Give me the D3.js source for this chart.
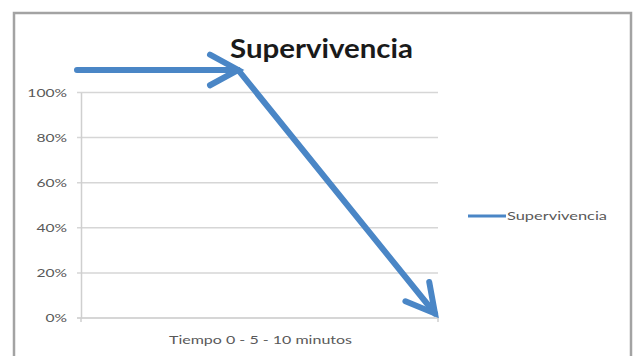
<!DOCTYPE html>
<html>
<head>
<meta charset="utf-8">
<script src="https://cdn.jsdelivr.net/npm/d3@7"></script>
<style>
  html, body { margin: 0; padding: 0; background: #fff; }
  svg { display: block; }
</style>
</head>
<body>
<svg id="chart" width="634" height="356"></svg>
<script>
// Survival series: minutes elapsed and survival percentage
const seriesName = "Supervivencia";
const minutes = [0, 4.5, 10];
const survival = [110, 110, 2];
const yTicks = [0, 20, 40, 60, 80, 100];
const xAxisLabel = "Tiempo 0 - 5 - 10 minutos";
const chartTitle = "Supervivencia";

const svg = d3.select("#chart");
const W = 634, H = 356;
const plot = { left: 81, right: 438, top: 92.5, bottom: 318 };
const lineColor = "#4a86c6";
const font = "Lato, 'Open Sans', sans-serif";

// stretch a text element horizontally to a given width
function fitWidth(sel, width) {
  sel.attr("textLength", width).attr("lengthAdjust", "spacingAndGlyphs");
}

svg.append("rect").attr("width", W).attr("height", H).attr("fill", "#fff");

// chart frame
svg.append("rect")
  .attr("x", 14).attr("y", 13)
  .attr("width", 617).attr("height", 360)
  .attr("fill", "#fff")
  .attr("stroke", "#a3a3a3").attr("stroke-width", 2.5);

const y = d3.scaleLinear().domain([0, 100]).range([plot.bottom, plot.top]);
const x = d3.scaleLinear().domain([0, 10]).range([plot.left - 4, plot.right - 3]);

// horizontal gridlines
svg.append("g").selectAll("line").data(yTicks).join("line")
  .attr("x1", plot.left - 4).attr("x2", plot.right)
  .attr("y1", d => y(d)).attr("y2", d => y(d))
  .attr("stroke", d => d === 0 ? "#c8c8c8" : "#d6d6d6")
  .attr("stroke-width", 1.5);

// value axis
const yAxis = d3.axisLeft(y).tickValues(yTicks).tickFormat(d => d + "%").tickSize(0).tickPadding(14);
const gy = svg.append("g").attr("transform", `translate(${plot.left},0)`).call(yAxis);
gy.select(".domain").attr("stroke", "#cfcfcf").attr("stroke-width", 1.5);
gy.selectAll("text")
  .attr("font-family", font).attr("font-size", 12)
  .attr("fill", "#595959")
  .each(function (d) {
    const w = this.getComputedTextLength();
    d3.select(this).call(fitWidth, w * 1.3);
  });

// category axis ticks at both ends
svg.append("g").selectAll("line").data([plot.left, plot.right]).join("line")
  .attr("x1", d => d).attr("x2", d => d)
  .attr("y1", plot.bottom).attr("y2", plot.bottom + 4)
  .attr("stroke", "#cfcfcf").attr("stroke-width", 1.5);

svg.append("text")
  .attr("x", 260.5).attr("y", 344)
  .attr("text-anchor", "middle")
  .attr("font-family", font).attr("font-size", 12)
  .attr("fill", "#595959")
  .text(xAxisLabel)
  .call(fitWidth, 183);

// series line
const pts = minutes.map((m, i) => [x(m), y(survival[i])]);
svg.append("path")
  .attr("d", d3.line()(pts))
  .attr("fill", "none")
  .attr("stroke", lineColor)
  .attr("stroke-width", 6)
  .attr("stroke-linejoin", "miter")
  .attr("stroke-linecap", "round");

// open arrowheads at the end of each segment
function arrowHead(from, to, len, spread) {
  const ang = Math.atan2(from[1] - to[1], from[0] - to[0]);
  const a1 = ang + spread, a2 = ang - spread;
  return [
    [to[0] + len * Math.cos(a1), to[1] + len * Math.sin(a1)],
    to,
    [to[0] + len * Math.cos(a2), to[1] + len * Math.sin(a2)]
  ];
}
const heads = [];
for (let i = 1; i < pts.length; i++) heads.push(arrowHead(pts[i - 1], pts[i], 32, Math.PI / 6.3));
svg.append("g").selectAll("path").data(heads).join("path")
  .attr("d", d => d3.line()(d))
  .attr("fill", "none")
  .attr("stroke", lineColor)
  .attr("stroke-width", 6)
  .attr("stroke-linejoin", "miter")
  .attr("stroke-linecap", "round");

// title
svg.append("text")
  .attr("x", 321.5).attr("y", 58)
  .attr("text-anchor", "middle")
  .attr("font-family", font).attr("font-weight", "bold").attr("font-size", 26)
  .attr("fill", "#1a1a1a")
  .text(chartTitle)
  .call(fitWidth, 183);

// legend
const lg = svg.append("g").attr("transform", "translate(468,216)");
lg.append("line").attr("x1", 0).attr("x2", 38).attr("y1", 0).attr("y2", 0)
  .attr("stroke", lineColor).attr("stroke-width", 3);
lg.append("text").attr("x", 39).attr("y", 4)
  .attr("font-family", font).attr("font-size", 12)
  .attr("fill", "#595959")
  .text(seriesName)
  .call(fitWidth, 100);
</script>
</body>
</html>
